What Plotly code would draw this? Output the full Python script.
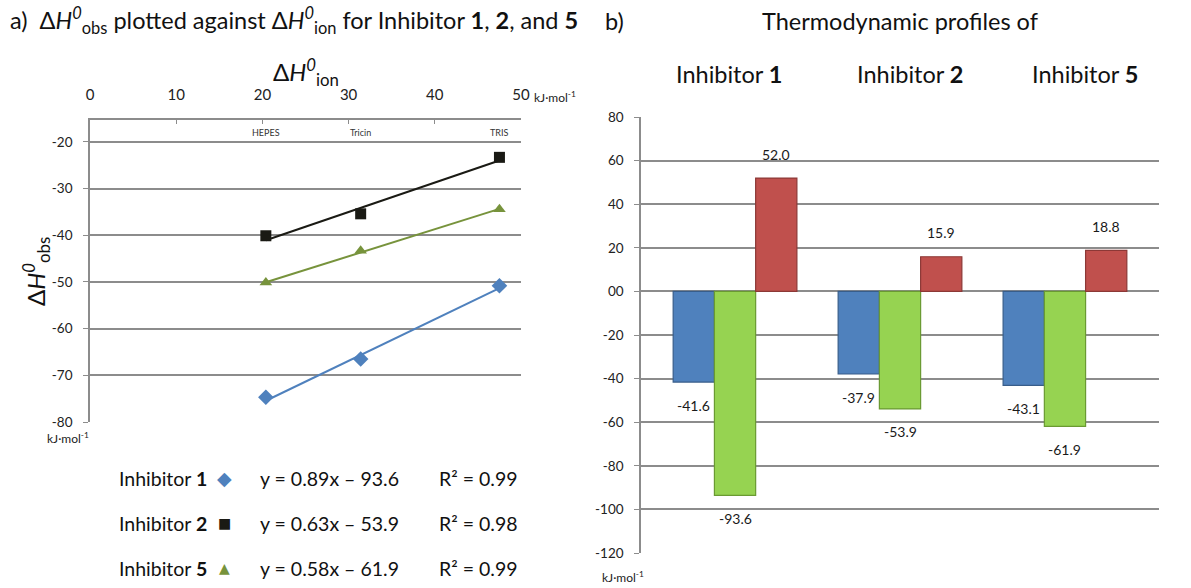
import plotly.graph_objects as go

W, H = 1191, 588
def px(x): return x / W
def py(y): return 1 - y / H

FONT = "Lato"

# ---------------- data: panel a ----------------
buffers = ["HEPES", "Tricin", "TRIS"]
dH_ion = [20.4, 31.4, 47.5]
inh_names = ["1", "2", "5"]
dH_obs_1 = [-74.7, -66.5, -50.8]
dH_obs_2 = [-40.1, -35.4, -23.3]
dH_obs_5 = [-50.1, -43.3, -34.4]
slopes = [0.89, 0.63, 0.58]
intercepts = [-93.6, -53.9, -61.9]
r_squared = ["0.99", "0.98", "0.99"]
left_yticks = [-20, -30, -40, -50, -60, -70, -80]
left_yticktext = ["-20", "-30", "-40", "-50", "-60", "-70", "-80"]
top_xticks = [0, 10, 20, 30, 40, 50]

# ---------------- data: panel b ----------------
groups = ["Inhibitor 1", "Inhibitor 2", "Inhibitor 5"]
dG = [-41.6, -37.9, -43.1]
dH = [-93.6, -53.9, -61.9]
mTdS = [52.0, 15.9, 18.8]
right_ytickvals = [80, 60, 40, 20, 0, -20, -40, -60, -80, -100, -120]
right_yticktext = ["80", "60", "40", "20", "00", "-20", "-40", "-60", "-80", "-100", "-120"]

series_colors = ["#4F81BD", "#1A1A14", "#77933C"]
series_symbols = ["diamond", "square", "triangle-up"]
series_obs = [dH_obs_1, dH_obs_2, dH_obs_5]

GRID = "#8C8C8C"
fig = go.Figure()

# panel a: points + trend lines
for name, obs, col, sym, m, b in zip(inh_names, series_obs, series_colors, series_symbols, slopes, intercepts):
    xs = [dH_ion[0], dH_ion[-1]]
    fig.add_trace(go.Scatter(x=xs, y=[m * v + b for v in xs], mode="lines",
                             line=dict(color=col, width=2), xaxis="x", yaxis="y",
                             showlegend=False, hoverinfo="skip"))
    fig.add_trace(go.Scatter(x=dH_ion, y=obs, mode="markers", name="Inhibitor " + name,
                             marker=dict(symbol=sym, size=11 if sym != "diamond" else 12, color=col),
                             xaxis="x", yaxis="y", showlegend=False))

# panel b: bars
bar_sets = [(dG, "#4F81BD", "#385D8A"), (dH, "#96D351", "#6A9A32"), (mTdS, "#C0504D", "#8C3836")]
for vals, col, edge in bar_sets:
    fig.add_trace(go.Bar(x=[0, 1, 2], y=vals, marker=dict(color=col, line=dict(color=edge, width=1.2)),
                         xaxis="x2", yaxis="y2", showlegend=False))

ann = []
def A(**kw):
    kw.setdefault("showarrow", False)
    kw.setdefault("xanchor", "center")
    kw.setdefault("yanchor", "middle")
    ann.append(kw)

# bar value labels
offsets = [-0.25, 0.0, 0.25]
for (vals, _, _), off in zip(bar_sets, offsets):
    for i, v in enumerate(vals):
        A(x=i + off, y=v, xref="x2", yref="y2", text=f"{v:.1f}",
          yshift=24 if v > 0 else -23, font=dict(size=14, color="#1a1a1a"))

# buffer labels on panel a
for bname, xv in zip(buffers, dH_ion):
    A(x=xv, y=py(133), xref="x", yref="paper", text=bname, font=dict(size=9, color="#333333"))

# titles
A(x=px(8), y=py(21), xref="paper", yref="paper", xanchor="left",
  text="a)  Δ<i>H</i><sup><i>0</i></sup><sub>obs</sub> plotted against Δ<i>H</i><sup><i>0</i></sup><sub>ion</sub> for Inhibitor <b>1</b>, <b>2</b>, and <b>5</b>",
  font=dict(size=23.5, color="#111"))
A(x=px(603), y=py(21), xref="paper", yref="paper", xanchor="left",
  text="b)", font=dict(size=23.5, color="#111"))
A(x=px(900), y=py(21), xref="paper", yref="paper",
  text="Thermodynamic profiles of", font=dict(size=23.5, color="#111"))
for g, cx in zip(groups, [729, 910, 1085]):
    parts = g.split()
    A(x=px(cx), y=py(74), xref="paper", yref="paper",
      text=parts[0] + " <b>" + parts[1] + "</b>", font=dict(size=23.5, color="#111"))

# axis titles / units
A(x=px(306), y=py(72), xref="paper", yref="paper",
  text="Δ<i>H</i><sup><i>0</i></sup><sub>ion</sub>", font=dict(size=24, color="#111"))
A(x=px(36), y=py(272), xref="paper", yref="paper", textangle=-90,
  text="Δ<i>H</i><sup><i>0</i></sup><sub>obs</sub>", font=dict(size=24, color="#111"))
unit = "kJ·mol<sup>-1</sup>"
A(x=px(532), y=py(97), xref="paper", yref="paper", xanchor="left",
  text=unit, font=dict(size=12, color="#222"))
A(x=px(45), y=py(438), xref="paper", yref="paper", xanchor="left",
  text=unit, font=dict(size=12, color="#222"))
A(x=px(600), y=py(577), xref="paper", yref="paper", xanchor="left",
  text=unit, font=dict(size=12, color="#222"))

# legend block panel a
legend_syms = ["◆", "■", "▲"]
legend_sizes = [19, 14, 14]
for k, (name, col, s, ss, m, b, r2) in enumerate(zip(inh_names, series_colors, legend_syms, legend_sizes, slopes, intercepts, r_squared)):
    yy = py(478 + 45 * k)
    A(x=px(117), y=yy, xref="paper", yref="paper", xanchor="left",
      text=f"Inhibitor <b>{name}</b>", font=dict(size=19.5, color="#111"))
    A(x=px(224), y=yy, xref="paper", yref="paper",
      text=s, font=dict(size=ss, color=col, family="DejaVu Sans"))
    A(x=px(258), y=yy, xref="paper", yref="paper", xanchor="left",
      text=f"y = {m:.2f}x – {abs(b):.1f}", font=dict(size=19.5, color="#111"))
    A(x=px(437), y=yy, xref="paper", yref="paper", xanchor="left",
      text=f"R² = {r2}", font=dict(size=19.5, color="#111"))

fig.update_layout(
    width=W, height=H, margin=dict(l=0, r=0, t=0, b=0, pad=0, autoexpand=False),
    paper_bgcolor="white", plot_bgcolor="white",
    font=dict(family=FONT, color="#111"),
    barmode="group", bargap=0.25, bargroupgap=0,
    annotations=ann,
    xaxis=dict(domain=[px(90), px(521)], anchor="y", side="top", range=[0, 50], automargin=False,
               tickvals=top_xticks, ticks="inside", ticklen=4, tickcolor=GRID,
               showline=True, linecolor=GRID, linewidth=1.5, showgrid=False, zeroline=False,
               tickfont=dict(size=15, color="#222"), ticklabelstandoff=12),
    yaxis=dict(domain=[py(422), py(120)], anchor="x", range=[-80, -15.3], automargin=False,
               tickvals=left_yticks, ticktext=left_yticktext, ticks="outside", ticklen=5, tickcolor=GRID,
               showline=True, linecolor=GRID, linewidth=1.5, showgrid=True, gridcolor=GRID,
               gridwidth=1.5, zeroline=False, tickfont=dict(size=13.5, color="#222"),
               ticklabelstandoff=8),
    xaxis2=dict(domain=[px(641), px(1159)], anchor="y2", range=[-0.57, 2.57], automargin=False,
                showticklabels=False, ticks="", showline=False, showgrid=False, zeroline=False),
    yaxis2=dict(domain=[py(553), py(117)], anchor="x2", range=[-120, 80], automargin=False,
                tickvals=right_ytickvals, ticktext=right_yticktext, ticks="outside", ticklen=5,
                tickcolor=GRID, showline=True, linecolor=GRID, linewidth=1.5,
                showgrid=True, gridcolor=GRID, gridwidth=1.5, zeroline=False,
                tickfont=dict(size=13.5, color="#222"), ticklabelstandoff=8),
)

fig.write_html("out.html", config={"displayModeBar": False},
               post_script="document.body.style.margin='0px'; document.body.style.overflow='hidden';")
